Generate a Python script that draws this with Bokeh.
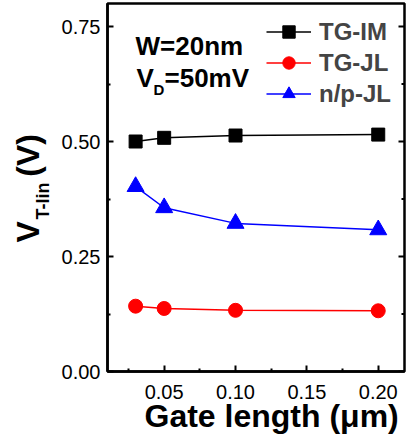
from bokeh.plotting import figure
from bokeh.models import (Range1d, FixedTicker, PrintfTickFormatter, Label,
                          Legend, LegendItem, Title)
from bokeh.embed import file_html
from bokeh.resources import INLINE

# ---- data ----
gate_length = [0.03, 0.05, 0.10, 0.20]
tg_im = [0.500, 0.508, 0.513, 0.515]
tg_jl = [0.142, 0.137, 0.133, 0.132]
np_jl = [0.402, 0.356, 0.322, 0.308]
series_names = ["TG-IM", "TG-JL", "n/p-JL"]
x_ticks = [0.05, 0.10, 0.15, 0.20]
x_minor = [0.025, 0.075, 0.125, 0.175]
y_ticks = [0.0, 0.25, 0.50, 0.75]
y_minor = [0.125, 0.375, 0.625]

FONT = "Liberation Sans"
X0, X1 = 0.0103, 0.2184
Y0, Y1 = 0.0, 0.80
L, R, T, B = 107, 2, 3, 68
W, H = 406, 439
FW, FH = W - L - R, H - T - B

def px2x(cx):
    return X0 + (cx - L) / FW * (X1 - X0)

def px2y(cy):
    return Y0 + (T + FH - cy) / FH * (Y1 - Y0)

p = figure(width=W, height=H, output_backend="svg", toolbar_location=None,
           x_range=Range1d(X0, X1), y_range=Range1d(Y0, Y1),
           min_border_left=L, min_border_right=R, min_border_top=T, min_border_bottom=B)
p.grid.visible = False
p.outline_line_color = "black"
p.outline_line_width = 2.5
p.background_fill_color = "white"
p.border_fill_color = "white"

def style_axis(ax):
    ax.axis_line_width = 2.5
    ax.major_tick_in = 6
    ax.major_tick_out = 0
    ax.minor_tick_in = 3
    ax.minor_tick_out = 0
    ax.major_tick_line_width = 2
    ax.minor_tick_line_width = 2
    ax.major_label_text_font = FONT
    ax.major_label_text_font_size = "20px"
    ax.major_label_text_color = "black"
    ax.formatter = PrintfTickFormatter(format="%.2f")

xa = p.xaxis[0]
xa.ticker = FixedTicker(ticks=x_ticks, minor_ticks=x_minor)
style_axis(xa)
xa.major_label_standoff = 13

ya = p.yaxis[0]
ya.ticker = FixedTicker(ticks=y_ticks, minor_ticks=y_minor)
style_axis(ya)
ya.major_label_standoff = 7

# inward ticks on the right frame edge (outer half clipped by the frame)
p.scatter([X1] * len(y_ticks), y_ticks, marker="dash", size=12,
          line_color="black", line_width=2)
p.scatter([X1] * len(y_minor), y_minor, marker="dash", size=6,
          line_color="black", line_width=2)

colors = ["black", "#ff0000", "#0000ff"]
markers = ["square", "circle", "triangle"]
sizes = [13, 14, 17]
items = []
for name, ys, c, m, s in zip(series_names, [tg_im, tg_jl, np_jl], colors, markers, sizes):
    rl = p.line(gate_length, ys, line_color=c, line_width=1.5)
    rs = p.scatter(gate_length, ys, marker=m, size=s, fill_color=c, line_color=c)
    items.append(LegendItem(label=name, renderers=[rl, rs]))

leg = Legend(items=items, location="top_right")
leg.border_line_color = None
leg.background_fill_alpha = 0
leg.label_text_font = FONT
leg.label_text_font_style = "bold"
leg.label_text_font_size = "24px"
leg.glyph_width = 45
leg.glyph_height = 31
leg.label_height = 31
leg.spacing = 0
leg.padding = 10
leg.margin = 13
leg.label_standoff = 8
p.add_layout(leg)

def lab(text, cx, cy, size):
    p.add_layout(Label(x=px2x(cx), y=px2y(cy), text=text,
                       text_font=FONT, text_font_size=size, text_font_style="bold",
                       text_color="black", text_align="left",
                       text_baseline="alphabetic"))

# annotations inside plot
lab("W=20nm", 135, 45, "26px")
lab("V", 136, 77, "26px")
lab("D", 153, 89, "15px")
lab("=50mV", 164, 77, "26px")

def title(text, size, place, align, valign, offset, standoff):
    p.add_layout(Title(text=text, text_font=FONT, text_font_size=size,
                       text_font_style="bold", text_color="black",
                       align=align, vertical_align=valign,
                       offset=offset, standoff=standoff), place)

# x axis label
title("Gate length (\u03bcm)", "32px", "below", "left", "bottom", 37, -10.6)

# y axis label: subscript column next to the axis, then V ... (V)
title("T-lin", "18px", "left", "left", "top", 152, 7.4)
title("V\u00a0\u00a0\u00a0\u00a0\u00a0(V)", "32px", "left", "left", "bottom", 129, -32.6)

open("out.html", "w").write(file_html(p, INLINE))
